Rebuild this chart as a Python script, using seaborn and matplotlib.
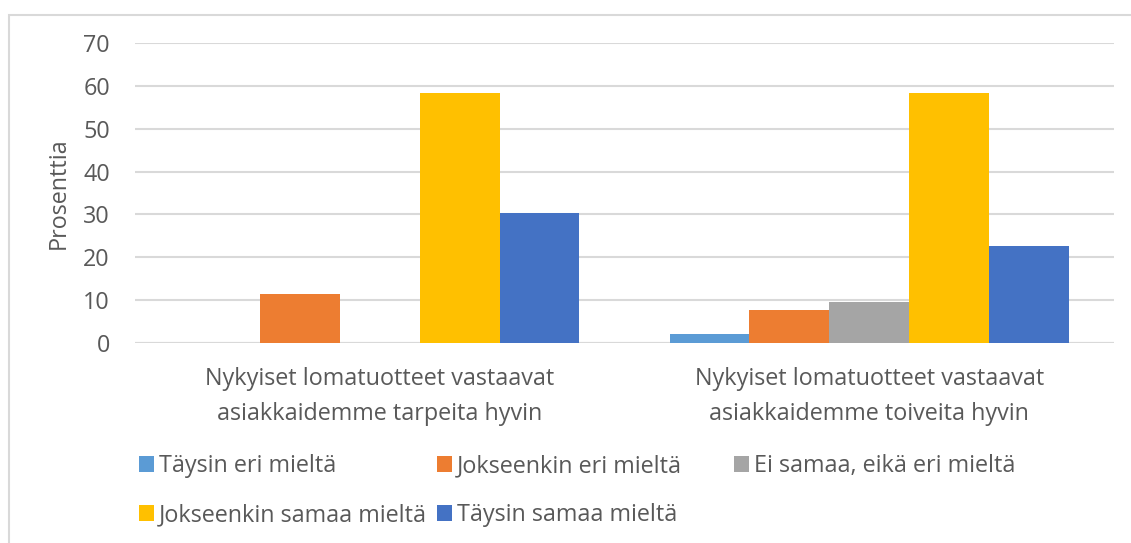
import matplotlib
matplotlib.use("Agg")
import matplotlib.pyplot as plt
import seaborn as sns
import pandas as pd
from matplotlib.patches import Rectangle, Patch

categories = ["Nykyiset lomatuotteet vastaavat\nasiakkaidemme tarpeita hyvin",
              "Nykyiset lomatuotteet vastaavat\nasiakkaidemme toiveita hyvin"]
series = ["Täysin eri mieltä", "Jokseenkin eri mieltä", "Ei samaa, eikä eri mieltä",
          "Jokseenkin samaa mieltä", "Täysin samaa mieltä"]
taysin_eri = [0.0, 2.0]
jokseenkin_eri = [11.4, 7.7]
ei_samaa = [0.0, 9.6]
jokseenkin_samaa = [58.3, 58.3]
taysin_samaa = [30.3, 22.6]
colors = ["#5B9BD5", "#ED7D31", "#A5A5A5", "#FFC000", "#4472C4"]
yticks = [0, 10, 20, 30, 40, 50, 60, 70]

values = [taysin_eri, jokseenkin_eri, ei_samaa, jokseenkin_samaa, taysin_samaa]
rows = []
for s, vals in zip(series, values):
    for c, v in zip(categories, vals):
        rows.append({"cat": c, "series": s, "value": v})
df = pd.DataFrame(rows)

sns.set_theme(style="white")
plt.rcParams["font.family"] = ["Open Sans", "DejaVu Sans"]
TXT = "#595959"
GRID = "#D9D9D9"
FS = 16.8

W, H = 1131, 543
fig = plt.figure(figsize=(W / 100, H / 100), dpi=100)
ax = fig.add_axes([135 / W, 1 - 343 / H, (1114 - 135) / W, 300 / H])

sns.barplot(data=df, x="cat", y="value", hue="series", hue_order=series,
            order=categories, palette=colors, width=0.816, linewidth=0,
            saturation=1, ax=ax, legend=False, errorbar=None)

ax.set_ylim(0, 70)
ax.set_xlim(-0.5, 1.5)
ax.set_yticks(yticks)
ax.set_yticklabels([str(t) for t in yticks])
ax.yaxis.grid(True, color=GRID, linewidth=1.5)
ax.set_axisbelow(True)
for sp in ax.spines.values():
    sp.set_visible(False)
ax.axhline(0, color=GRID, linewidth=1.5, zorder=0.5)
ax.tick_params(axis="both", length=0, labelsize=FS, labelcolor=TXT)
ax.tick_params(axis="y", pad=18)
ax.tick_params(axis="x", pad=17)
for lab in ax.get_xticklabels():
    lab.set_linespacing(1.65)
ax.set_xlabel("")
ax.set_ylabel("Prosenttia", fontsize=FS, color=TXT, labelpad=9)

# outer chart border
fig.patches.append(Rectangle((9 / W, -0.1), 1.2, 1 - 15 / H + 0.1,
                             transform=fig.transFigure, fill=False,
                             edgecolor=GRID, linewidth=1.5))

# legend entries placed like the reference (Excel-style flow)
pos = [(139, 466), (437, 466), (734, 466), (139, 515), (437, 515)]
for s, col, (px, py) in zip(series, colors, pos):
    leg = fig.legend(handles=[Patch(facecolor=col, edgecolor="none")], labels=[s],
                     loc="center left", bbox_to_anchor=(px / W, 1 - py / H),
                     bbox_transform=fig.transFigure, frameon=False, fontsize=FS,
                     handlelength=0.65, handleheight=0.65, handletextpad=0.2,
                     borderpad=0, borderaxespad=0)
    for t in leg.get_texts():
        t.set_color(TXT)

fig.savefig("out.png", dpi=100)
